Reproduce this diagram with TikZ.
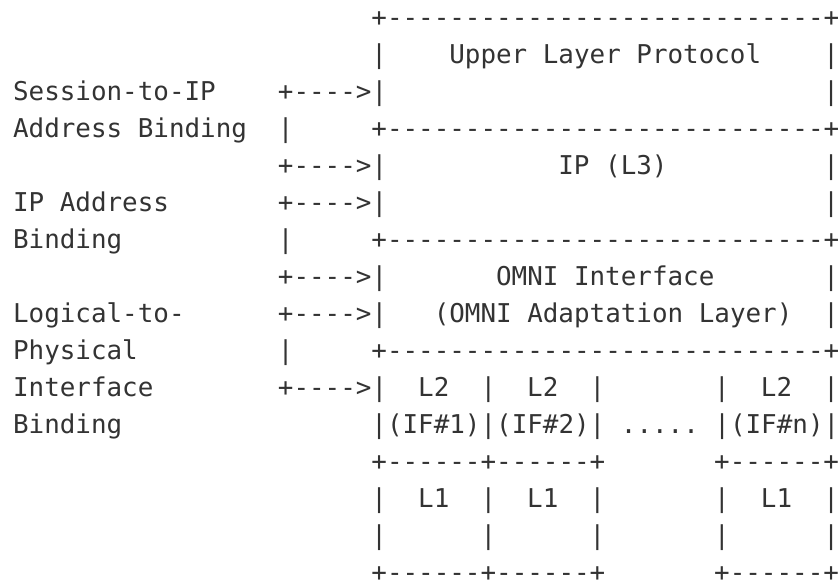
\documentclass[tikz,border=0pt]{standalone}
\usepackage{fontspec}
\setmonofont{DejaVu Sans Mono}
\definecolor{asciigrey}{HTML}{333333}
\tikzset{
	ascii/.style={anchor=base west,inner sep=0pt,yshift=-8pt,text=asciigrey,
		font=\ttfamily\fontsize{25.9pt}{37pt}\selectfont}
}
\begin{document}
\begin{tikzpicture}[x=15.58pt,y=-37pt]
	\useasboundingbox (-12.9pt,18.3pt) rectangle (826.1pt,-564.7pt);

	% upper layer
	\node[ascii] (ULtop) at (23,0) {+----------------------------+};
	\node[ascii] (ULL) at (23,1) {|};
	\node[ascii] (UL) at (28,1) {Upper Layer Protocol};
	\node[ascii] (ULR) at (52,1) {|};
	\node[ascii] (SIP) at (0,2) {Session-to-IP};
	\node[ascii] (SIParr) at (17,2) {+---->|};
	\node[ascii] (ULR2) at (52,2) {|};
	\node[ascii] (SIPb) at (0,3) {Address Binding};
	\node[ascii] (SIPv) at (17,3) {|};

	% IP layer
	\node[ascii] (IPtop) at (23,3) {+----------------------------+};
	\node[ascii] (SIParr2) at (17,4) {+---->|};
	\node[ascii] (IP) at (35,4) {IP (L3)};
	\node[ascii] (IPR) at (52,4) {|};
	\node[ascii] (IPA) at (0,5) {IP Address};
	\node[ascii] (IPAarr) at (17,5) {+---->|};
	\node[ascii] (IPR2) at (52,5) {|};
	\node[ascii] (IPAb) at (0,6) {Binding};
	\node[ascii] (IPAv) at (17,6) {|};

	% OMNI layer
	\node[ascii] (OMtop) at (23,6) {+----------------------------+};
	\node[ascii] (IPAarr2) at (17,7) {+---->|};
	\node[ascii] (OM) at (31,7) {OMNI Interface};
	\node[ascii] (OMR) at (52,7) {|};
	\node[ascii] (LtP) at (0,8) {Logical-to-};
	\node[ascii] (LtParr) at (17,8) {+---->|};
	\node[ascii] (OMA) at (27,8) {(OMNI Adaptation Layer)};
	\node[ascii] (OMR2) at (52,8) {|};
	\node[ascii] (LtPb) at (0,9) {Physical};
	\node[ascii] (LtPv) at (17,9) {|};

	% L2 boxes
	\node[ascii] (LTtop) at (23,9) {+----------------------------+};
	\node[ascii] (LtPc) at (0,10) {Interface};
	\node[ascii] (LtParr2) at (17,10) {+---->|};
	\node[ascii] (LTa) at (26,10) {L2};
	\node[ascii] (LTab) at (30,10) {|};
	\node[ascii] (LTb) at (33,10) {L2};
	\node[ascii] (LTbc) at (37,10) {|};
	\node[ascii] (LTnl) at (45,10) {|};
	\node[ascii] (LTn) at (48,10) {L2};
	\node[ascii] (LTnr) at (52,10) {|};
	\node[ascii] (LtPd) at (0,11) {Binding};
	\node[ascii] (IF) at (23,11) {|(IF\#1)|(IF\#2)| ..... |(IF\#n)|};

	% L1 boxes
	\node[ascii] (LOtop) at (23,12) {+------+------+};
	\node[ascii] (LOntop) at (45,12) {+------+};
	\node[ascii] (LOl) at (23,13) {|};
	\node[ascii] (LOa) at (26,13) {L1};
	\node[ascii] (LOab) at (30,13) {|};
	\node[ascii] (LOb) at (33,13) {L1};
	\node[ascii] (LObc) at (37,13) {|};
	\node[ascii] (LOnl) at (45,13) {|};
	\node[ascii] (LOn) at (48,13) {L1};
	\node[ascii] (LOnr) at (52,13) {|};
	\node[ascii] (LOl2) at (23,14) {|};
	\node[ascii] (LOab2) at (30,14) {|};
	\node[ascii] (LObc2) at (37,14) {|};
	\node[ascii] (LOnl2) at (45,14) {|};
	\node[ascii] (LOnr2) at (52,14) {|};
	\node[ascii] (LObot) at (23,15) {+------+------+};
	\node[ascii] (LOnbot) at (45,15) {+------+};
\end{tikzpicture}
\end{document}
